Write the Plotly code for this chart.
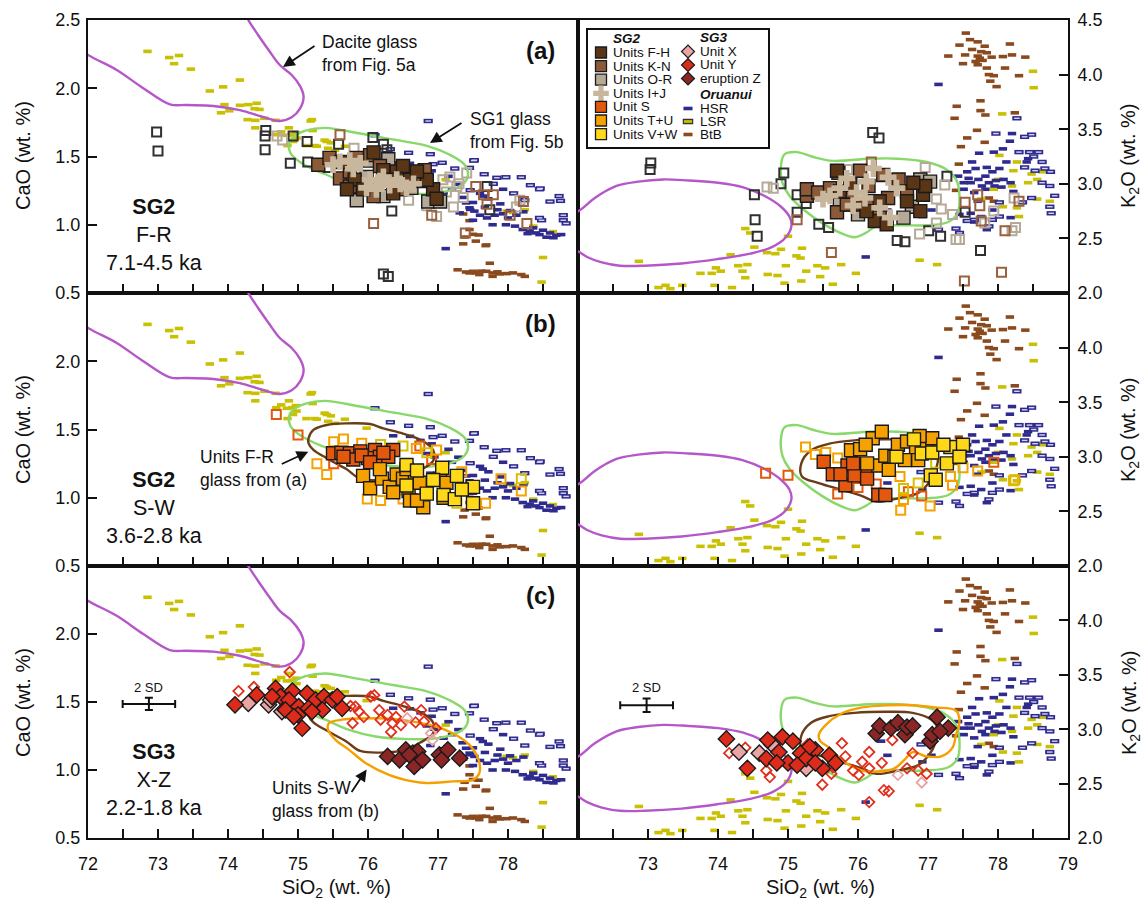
import plotly.graph_objects as go

FONT = "Liberation Sans, Arial, Helvetica, sans-serif"

# ---------------------------------------------------------------------------
# Oruanui reference glass (background in every panel), SiO2 vs CaO (wt. %)
# ---------------------------------------------------------------------------
HSR_CAO = [
    (76.36, 1.454), (76.91, 1.395), (76.84, 1.324), (77.08, 1.234), (76.89, 1.18),
    (77.29, 1.297), (77.15, 1.355), (77.60, 1.23), (77.72, 1.19), (77.50, 1.163),
    (77.46, 1.112), (77.67, 1.129), (77.89, 1.153), (78.03, 1.104), (77.93, 1.08),
    (77.81, 1.07), (78.12, 1.07), (78.22, 1.095), (77.60, 1.07), (77.31, 1.087),
    (77.50, 1.033), (78.31, 0.953), (78.45, 0.928), (78.55, 0.909), (78.69, 0.923),
    (78.36, 0.977), (78.76, 0.928), (78.21, 0.965), (77.97, 1.00), (77.78, 1.00),
    (77.52, 1.10), (77.45, 1.124), (77.11, 0.825), (77.64, 1.21), (77.93, 1.26),
    (78.40, 0.94), (78.60, 0.94), (78.50, 0.96), (78.65, 0.905), (78.28, 0.935),
    (77.70, 1.05), (77.40, 1.16), (77.85, 1.11), (78.00, 1.05), (77.20, 1.26),
    (76.95, 1.30), (76.60, 1.45), (76.75, 1.42), (78.10, 0.99), (77.35, 1.20),
]
HSR_OPEN_CAO = [
    (76.86, 1.76), (76.10, 1.656), (76.32, 1.553), (76.58, 1.527), (76.89, 1.517),
    (77.52, 1.473), (77.06, 1.454), (76.93, 1.444), (77.24, 1.412), (77.45, 1.417),
    (77.66, 1.37), (77.84, 1.344), (77.97, 1.348), (78.19, 1.348), (78.32, 1.29),
    (78.46, 1.266), (78.73, 1.21), (78.75, 1.175), (78.24, 1.18), (78.08, 1.23),
    (77.79, 1.30), (77.46, 1.253), (78.48, 1.033), (78.79, 1.033), (78.79, 1.07),
    (78.83, 1.01), (78.45, 1.05), (78.45, 1.26), (77.51, 1.47), (78.60, 1.17),
]
LSR_CAO = [
    (72.85, 2.27), (73.16, 2.225), (73.30, 2.24), (73.23, 2.18), (73.47, 2.14),
    (74.17, 2.06), (73.93, 2.01), (73.74, 1.98), (73.95, 1.88), (74.17, 1.875),
    (74.29, 1.88), (74.41, 1.89), (74.38, 1.85), (74.45, 1.845), (73.90, 1.82),
    (74.02, 1.835), (74.28, 1.77), (74.39, 1.765), (74.52, 1.78), (74.68, 1.765),
    (74.39, 1.71), (74.69, 1.66), (74.76, 1.68), (74.87, 1.71), (74.97, 1.675),
    (74.92, 1.66), (74.98, 1.635), (75.18, 1.76), (75.21, 1.69), (75.38, 1.62),
    (75.47, 1.60), (75.20, 1.77), (75.24, 1.58), (75.43, 1.56), (74.85, 1.58),
    (74.84, 1.655), (74.93, 1.61), (75.12, 1.58), (75.27, 1.575), (75.41, 1.61),
    (75.53, 1.545), (75.67, 1.575), (75.98, 1.51), (77.11, 1.33), (78.50, 0.76),
    (78.48, 0.58), (77.98, 1.10), (78.36, 0.99), (78.64, 0.95), (78.24, 1.11),
    (78.07, 1.09),
]
BTB_CAO = [
    (77.28, 0.67), (77.40, 0.654), (77.54, 0.647), (77.69, 0.659), (77.78, 0.647),
    (77.74, 0.718), (77.88, 0.64), (77.98, 0.642), (78.07, 0.647), (78.19, 0.635),
    (78.24, 0.622), (77.50, 0.659), (77.59, 0.635), (77.78, 0.622), (77.45, 0.647),
    (77.62, 0.66), (77.85, 0.655), (77.45, 1.03), (77.45, 0.965), (77.38, 0.91),
    (77.36, 0.86), (77.54, 0.88), (77.68, 0.847), (77.50, 0.93), (77.36, 1.079),
    (77.58, 0.925), (77.69, 0.852),
]

# Oruanui reference glass, SiO2 vs K2O (wt. %)
HSR_K2O = [
    (77.15, 3.91), (77.56, 3.11), (77.61, 3.01), (77.72, 3.04), (77.82, 3.07),
    (77.51, 2.95), (77.66, 2.92), (77.87, 3.01), (77.97, 3.03), (78.08, 3.04),
    (78.18, 3.01), (77.92, 3.11), (78.02, 3.14), (78.12, 3.20), (77.94, 3.29),
    (78.07, 3.32), (78.17, 3.39), (78.20, 3.46), (77.73, 3.28), (77.63, 3.20),
    (77.71, 2.84), (77.61, 2.73), (77.76, 2.70), (77.92, 2.76), (77.66, 2.65),
    (77.84, 2.58), (77.45, 2.72), (77.05, 2.76), (76.92, 2.70), (78.18, 2.69),
    (78.41, 3.20), (78.43, 3.23), (77.84, 3.15), (77.82, 2.95), (78.22, 2.93),
    (77.51, 3.01), (77.43, 3.07), (77.68, 3.14), (76.33, 2.89), (76.42, 2.76),
    (76.11, 2.33), (77.95, 2.98), (77.58, 3.05), (78.05, 2.97), (77.77, 2.98),
]
HSR_OPEN_K2O = [
    (78.38, 3.43), (78.48, 3.45), (78.30, 3.29), (78.45, 3.29), (78.58, 3.29),
    (78.51, 3.25), (78.63, 3.20), (78.67, 3.14), (78.75, 3.11), (78.53, 3.12),
    (78.38, 3.15), (78.63, 3.01), (78.74, 2.98), (78.81, 2.89), (78.74, 2.79),
    (78.76, 2.73), (78.48, 2.87), (78.35, 2.83), (78.02, 2.70), (77.92, 2.67),
    (77.87, 2.61), (77.45, 2.55), (77.40, 2.59), (77.15, 2.58), (76.90, 2.86),
    (78.27, 3.60), (77.97, 3.46), (77.66, 2.67), (77.56, 2.66), (78.02, 2.83),
]
LSR_K2O = [
    (72.87, 2.29), (73.15, 2.05), (73.25, 2.07), (73.32, 2.04), (73.49, 2.07),
    (73.75, 2.18), (73.91, 2.18), (73.97, 2.23), (74.04, 2.20), (74.18, 2.35),
    (73.95, 2.07), (74.20, 2.05), (74.29, 2.25), (74.42, 2.26), (74.35, 2.20),
    (74.39, 2.14), (74.46, 2.55), (74.52, 2.42), (74.70, 2.37), (74.71, 2.17),
    (74.82, 2.36), (74.90, 2.40), (74.85, 2.16), (74.95, 2.09), (74.97, 2.25),
    (75.00, 2.52), (75.12, 2.34), (75.20, 2.41), (75.18, 2.32), (75.26, 2.20),
    (75.19, 2.11), (75.42, 2.25), (75.53, 2.23), (75.46, 2.15), (75.64, 2.08),
    (75.76, 2.26), (75.97, 2.18), (76.88, 2.30), (77.13, 2.26), (74.39, 2.59),
    (78.50, 4.03), (78.51, 3.88), (78.06, 3.64), (78.22, 3.12), (78.02, 3.26),
    (78.43, 3.01), (78.56, 3.04), (78.27, 3.20), (78.63, 3.11), (77.94, 2.95),
    (78.20, 2.98), (78.07, 2.79), (78.27, 2.78), (78.56, 2.86), (78.74, 2.84),
    (78.30, 2.70), (77.76, 2.86), (78.00, 3.04), (78.48, 3.09),
]
BTB_K2O = [
    (77.54, 4.38), (77.60, 4.32), (77.71, 4.30), (77.45, 4.27), (77.81, 4.26),
    (77.63, 4.23), (77.76, 4.21), (77.84, 4.20), (77.53, 4.18), (77.71, 4.17),
    (77.91, 4.16), (78.07, 4.165), (78.20, 4.18), (78.39, 4.16), (78.17, 4.28),
    (77.29, 4.17), (77.50, 4.10), (77.71, 4.09), (77.84, 4.06), (78.10, 4.06),
    (77.87, 4.00), (77.94, 3.99), (78.30, 3.99), (77.89, 3.94), (77.98, 3.89),
    (77.75, 3.76), (77.41, 3.71), (77.75, 3.67), (77.82, 3.63), (78.24, 3.65),
    (77.38, 3.60), (77.70, 3.49), (77.56, 3.42), (77.81, 3.38), (77.47, 3.34),
    (77.44, 3.18), (77.87, 2.87), (77.94, 2.84), (77.40, 2.94), (77.78, 4.13),
    (77.74, 4.15), (77.68, 4.12),
]

# ---------------------------------------------------------------------------
# Compositional fields (outlines)
# ---------------------------------------------------------------------------
DACITE_CAO = [
    (71.80, 2.32), (72.00, 2.244), (72.41, 2.134), (72.79, 2.00), (73.17, 1.882),
    (73.41, 1.877), (73.79, 1.87), (74.17, 1.84), (74.50, 1.79), (74.74, 1.76),
    (74.91, 1.787), (75.03, 1.853), (75.08, 1.938), (75.03, 2.016), (74.91, 2.097),
    (74.74, 2.17), (74.58, 2.28), (74.43, 2.39), (74.29, 2.50), (74.18, 2.62),
]
DACITE_K2O = [
    (71.85, 2.70), (72.03, 2.76), (72.24, 2.87), (72.55, 2.98), (72.86, 3.02),
    (73.22, 3.04), (73.58, 3.03), (74.00, 3.01), (74.35, 2.97), (74.66, 2.89),
    (74.90, 2.79), (75.02, 2.70), (75.05, 2.62), (74.97, 2.51), (74.77, 2.42),
    (74.46, 2.36), (73.99, 2.31), (73.48, 2.27), (72.96, 2.25), (72.60, 2.25),
    (72.34, 2.28), (72.13, 2.33), (72.03, 2.37), (71.85, 2.44),
]
SG1_CAO = [
    (74.92, 1.64), (75.11, 1.69), (75.39, 1.71), (75.87, 1.67), (76.35, 1.625),
    (76.83, 1.58), (77.16, 1.515), (77.38, 1.44), (77.43, 1.37), (77.38, 1.31),
    (77.21, 1.26), (76.92, 1.23), (76.59, 1.227), (76.11, 1.246), (75.73, 1.295),
    (75.39, 1.37), (75.20, 1.41), (75.01, 1.466), (74.89, 1.528), (74.87, 1.59),
    (74.92, 1.64),
]
SG1_K2O = [
    (74.92, 3.01), (74.90, 3.17), (74.95, 3.27), (75.13, 3.29), (75.34, 3.25),
    (75.64, 3.21), (76.16, 3.23), (76.57, 3.23), (76.98, 3.20), (77.24, 3.14),
    (77.40, 3.04), (77.45, 2.89), (77.42, 2.73), (77.29, 2.65), (76.98, 2.62),
    (76.57, 2.62), (76.26, 2.61), (76.11, 2.55), (75.95, 2.51), (75.75, 2.55),
    (75.49, 2.64), (75.23, 2.76), (75.02, 2.89), (74.92, 3.01),
]
FR_CAO = [
    (75.15, 1.435), (75.22, 1.497), (75.41, 1.533), (75.69, 1.545), (76.03, 1.54),
    (76.22, 1.508), (76.50, 1.47), (76.77, 1.42), (76.93, 1.35), (76.93, 1.27),
    (76.74, 1.20), (76.55, 1.15), (76.27, 1.13), (75.89, 1.14), (75.69, 1.21),
    (75.41, 1.29), (75.22, 1.35), (75.15, 1.40), (75.15, 1.435),
]
FR_K2O = [
    (75.20, 2.82), (75.19, 2.94), (75.33, 3.06), (75.59, 3.12), (75.95, 3.15),
    (76.42, 3.16), (76.78, 3.15), (77.04, 3.09), (77.14, 3.00), (77.11, 2.88),
    (77.01, 2.76), (76.86, 2.67), (76.57, 2.62), (76.26, 2.59), (76.06, 2.64),
    (75.75, 2.70), (75.44, 2.76), (75.20, 2.82),
]
SW_CAO = [
    (75.44, 1.344), (75.63, 1.37), (76.11, 1.38), (76.35, 1.375), (76.64, 1.356),
    (76.97, 1.32), (77.21, 1.27), (77.45, 1.185), (77.58, 1.075), (77.59, 0.977),
    (77.50, 0.928), (77.21, 0.916), (76.83, 0.904), (76.64, 0.916), (76.30, 0.965),
    (75.97, 1.05), (75.73, 1.148), (75.54, 1.22), (75.43, 1.295), (75.44, 1.344),
]
SW_K2O = [
    (75.44, 2.95), (75.54, 3.04), (75.75, 3.14), (76.06, 3.20), (76.42, 3.22),
    (76.78, 3.22), (77.09, 3.20), (77.40, 3.17), (77.45, 3.07), (77.40, 2.95),
    (77.35, 2.83), (77.19, 2.75), (76.98, 2.75), (76.78, 2.79), (76.68, 2.73),
    (76.52, 2.64), (76.26, 2.61), (76.06, 2.62), (75.80, 2.70), (75.59, 2.83),
    (75.46, 2.89), (75.44, 2.95),
]

# ---------------------------------------------------------------------------
# SG2 units F-R (panel a)
# ---------------------------------------------------------------------------
FH_CAO = [
    (75.81, 1.33), (76.22, 1.40), (76.41, 1.39), (76.60, 1.33), (76.93, 1.26),
    (76.84, 1.33), (76.98, 1.19), (75.70, 1.26), (75.93, 1.26), (76.50, 1.43),
    (76.29, 1.33), (76.70, 1.39), (76.08, 1.53), (75.62, 1.46), (76.36, 1.23),
]
KN_CAO = [
    (75.29, 1.44), (75.60, 1.34), (76.03, 1.51), (75.45, 1.49), (75.74, 1.39),
    (76.31, 1.38), (76.60, 1.38), (76.74, 1.32), (75.84, 1.49), (76.17, 1.43),
    (76.46, 1.26), (75.74, 1.28), (76.81, 1.40), (76.08, 1.21),
]
OR_CAO = [
    (75.84, 1.18), (76.86, 1.17), (77.03, 1.17), (76.22, 1.21), (76.03, 1.47),
    (75.98, 1.35), (76.62, 1.27), (76.29, 1.48),
]
IJ_CAO = [
    (75.60, 1.46), (75.74, 1.47), (75.89, 1.45), (76.03, 1.33), (76.17, 1.32),
    (76.31, 1.29), (76.46, 1.30), (76.55, 1.27), (76.12, 1.26), (76.22, 1.35),
    (76.41, 1.33), (76.65, 1.30), (75.50, 1.44), (75.98, 1.27), (75.79, 1.41),
]
FR_OPEN_DARK_CAO = [
    (72.98, 1.68), (73.00, 1.54), (74.54, 1.69), (74.53, 1.65), (74.53, 1.55),
    (74.89, 1.45), (75.13, 1.61), (75.14, 1.46), (75.43, 1.42), (74.93, 1.65),
    (75.58, 1.59), (76.07, 1.64), (76.22, 1.59), (76.27, 1.55), (76.34, 1.10),
    (76.22, 0.64), (76.29, 0.62), (76.27, 1.50), (77.70, 1.28), (77.74, 1.11),
]
FR_OPEN_TAN_CAO = [
    (74.70, 1.65), (74.78, 1.62), (77.17, 1.35), (77.27, 1.28), (77.22, 1.13),
    (76.98, 1.06), (77.36, 1.20), (77.07, 1.33), (77.41, 1.38), (76.84, 1.14),
    (76.58, 1.18), (77.12, 1.24), (77.30, 1.30), (76.95, 1.22), (75.80, 1.56),
    (78.17, 1.18), (78.12, 1.13),
]
FR_OPEN_BROWN_CAO = [
    (75.60, 1.66), (76.08, 1.01), (76.91, 1.07), (77.39, 0.94), (77.54, 1.28),
    (77.65, 1.22), (77.79, 1.22), (78.03, 1.07), (78.22, 1.17), (78.27, 1.01),
    (77.70, 1.15),
]
FH_K2O = [
    (76.03, 2.81), (76.24, 2.66), (76.41, 2.63), (76.89, 2.75), (76.93, 2.90),
    (76.96, 2.98), (75.74, 2.93), (75.89, 2.99), (76.31, 2.84), (76.70, 2.84),
    (76.12, 2.75), (75.70, 3.12), (76.79, 3.01),
]
KN_K2O = [
    (75.27, 2.89), (75.27, 2.95), (75.43, 2.92), (75.60, 2.96), (75.72, 3.10),
    (75.70, 2.74), (75.84, 2.81), (76.15, 2.98), (76.17, 2.84), (76.36, 3.08),
    (76.43, 2.87), (76.58, 3.04), (76.31, 2.69), (76.03, 3.12), (76.70, 2.93),
    (75.91, 2.93),
]
OR_K2O = [
    (75.89, 2.81), (76.89, 3.04), (77.03, 3.02), (76.00, 2.72), (75.74, 2.83),
    (76.77, 2.79), (76.65, 2.69),
]
IJ_K2O = [
    (75.60, 2.89), (75.74, 2.96), (75.98, 2.92), (76.12, 3.02), (76.22, 3.14),
    (76.43, 3.06), (76.55, 2.96), (76.46, 2.69), (76.31, 2.78), (75.93, 2.80),
    (75.84, 3.05), (76.10, 2.87), (75.50, 2.86),
]
FR_OPEN_DARK_K2O = [
    (73.04, 3.19), (73.03, 3.13), (74.52, 2.90), (74.53, 2.67), (74.56, 2.52),
    (74.90, 3.00), (74.94, 3.10), (75.13, 2.90), (75.13, 2.74), (75.44, 2.63),
    (75.58, 2.60), (76.21, 3.47), (76.30, 3.42), (76.56, 2.48), (76.67, 2.47),
    (77.01, 2.57), (77.18, 2.52), (77.27, 3.07), (77.53, 2.74), (77.75, 2.39),
    (75.26, 2.82),
]
FR_OPEN_TAN_K2O = [
    (74.70, 2.97), (74.79, 2.96), (75.85, 3.13), (76.96, 3.15), (77.24, 2.99),
    (77.12, 2.86), (77.19, 2.77), (77.35, 2.72), (76.88, 2.54), (77.40, 2.49),
    (77.45, 2.49), (77.94, 2.75), (78.23, 2.87), (78.20, 2.57), (78.25, 2.60),
    (77.81, 2.64), (77.12, 2.64),
]
FR_OPEN_BROWN_K2O = [
    (75.13, 2.67), (76.19, 3.20), (75.62, 2.37), (77.52, 2.11), (78.05, 2.19),
    (77.74, 2.80), (77.71, 2.90), (78.10, 2.57), (78.30, 2.84), (77.53, 2.83),
    (77.76, 2.66),
]

# ---------------------------------------------------------------------------
# SG2 units S-W (panel b)
# ---------------------------------------------------------------------------
S_CAO = [
    (75.50, 1.326), (75.62, 1.33), (75.74, 1.326), (75.89, 1.34), (76.10, 1.35),
    (76.36, 1.35), (75.79, 1.28), (76.00, 1.29), (76.17, 1.30), (76.29, 1.30),
    (75.91, 1.31), (76.03, 1.26), (75.65, 1.30), (76.22, 1.33),
]
TU_CAO = [
    (75.93, 1.16), (76.03, 1.07), (76.20, 1.14), (76.31, 1.08), (76.41, 1.17),
    (76.50, 1.14), (76.58, 1.05), (76.67, 1.18), (76.60, 0.98), (76.79, 0.93),
    (76.84, 1.04), (76.70, 0.98), (77.03, 1.14), (77.12, 1.11), (76.17, 1.21),
    (76.36, 1.04), (76.55, 1.21), (77.08, 1.00), (76.74, 1.11),
]
VW_CAO = [
    (76.55, 1.24), (77.06, 1.22), (77.27, 1.16), (76.93, 1.13), (77.08, 1.02),
    (77.24, 0.99), (77.50, 1.08), (77.50, 0.96), (77.34, 1.06), (76.55, 1.09),
    (76.84, 1.03), (76.70, 1.20),
]
S_OPEN_CAO = [(74.69, 1.61), (75.00, 1.46), (75.51, 1.25), (76.74, 1.38), (76.91, 1.28)]
TU_OPEN_CAO = [
    (75.27, 1.25), (75.41, 1.17), (75.51, 1.41), (75.65, 1.43), (75.91, 1.40),
    (76.98, 1.35), (76.69, 1.36), (75.99, 0.99), (76.18, 0.98), (76.50, 0.99),
    (77.68, 0.96), (77.34, 1.19), (78.19, 1.05), (77.90, 1.14),
]
VW_OPEN_CAO = [(76.18, 1.39), (76.50, 1.38), (76.84, 1.33), (78.19, 1.14), (77.27, 0.96)]
S_K2O = [
    (75.51, 2.955), (75.64, 2.84), (75.85, 2.92), (76.11, 2.83), (75.82, 2.74),
    (75.95, 2.83), (76.29, 2.65), (76.39, 2.65), (76.13, 2.80), (75.75, 2.84),
    (75.93, 2.94),
]
TU_K2O = [
    (75.90, 3.06), (76.03, 3.07), (76.21, 3.17), (76.34, 3.23), (76.29, 2.92),
    (76.39, 3.01), (76.52, 3.00), (76.57, 3.11), (76.70, 3.14), (76.83, 3.08),
    (76.98, 3.14), (76.13, 2.94), (76.44, 2.88), (76.67, 2.97), (76.86, 2.97),
    (77.06, 3.17), (76.11, 3.11), (76.88, 3.19),
]
VW_K2O = [
    (76.55, 3.00), (76.91, 3.03), (77.06, 3.04), (77.27, 2.94), (77.32, 3.09),
    (77.50, 3.11), (77.45, 3.00), (77.04, 2.83), (77.11, 2.79), (77.22, 3.11),
    (76.80, 3.16),
]
S_OPEN_K2O = [
    (74.68, 2.85), (75.00, 2.83), (75.71, 2.66), (76.00, 2.72), (76.26, 2.75),
    (76.72, 2.68), (76.91, 2.64), (77.94, 2.95),
]
TU_OPEN_K2O = [
    (75.25, 3.09), (75.39, 3.02), (75.54, 3.04), (75.71, 2.99), (76.60, 2.82),
    (76.65, 2.61), (76.61, 2.51), (77.03, 2.55), (77.32, 2.82), (77.35, 2.74),
    (77.50, 2.90), (77.71, 2.87), (78.24, 2.79),
]
VW_OPEN_K2O = [(76.65, 2.71), (76.86, 2.76), (78.22, 2.78), (77.11, 2.94)]

# ---------------------------------------------------------------------------
# SG3 units X-Z (panel c)
# ---------------------------------------------------------------------------
X_CAO = [(74.29, 1.49), (74.58, 1.479), (74.77, 1.43), (74.61, 1.515)]
Y_CAO = [
    (74.10, 1.479), (74.41, 1.552), (74.68, 1.60), (74.75, 1.54), (74.92, 1.58),
    (74.87, 1.515), (75.01, 1.466), (75.13, 1.564), (75.25, 1.515), (75.37, 1.54),
    (75.49, 1.515), (75.63, 1.454), (75.00, 1.405), (75.06, 1.307), (75.15, 1.454),
    (75.35, 1.442), (75.56, 1.54), (74.63, 1.54), (74.82, 1.442), (74.94, 1.393),
    (75.20, 1.43),
]
Z_CAO = [
    (76.28, 1.10), (76.45, 1.075), (76.54, 1.148), (76.64, 1.124), (76.71, 1.136),
    (76.66, 1.026), (76.78, 1.075), (77.02, 1.112), (77.14, 1.148), (77.31, 1.087),
    (77.05, 1.075), (76.59, 1.112),
]
Y_OPEN_CAO = [
    (74.15, 1.58), (74.37, 1.61), (74.88, 1.72), (75.75, 1.47), (75.78, 1.344),
    (75.87, 1.43), (76.04, 1.54), (76.09, 1.55), (76.16, 1.44), (76.18, 1.37),
    (76.33, 1.28), (76.40, 1.39), (76.47, 1.33), (76.52, 1.466), (76.68, 1.35),
    (76.76, 1.44), (76.80, 1.356), (76.97, 1.307), (75.94, 1.39), (75.82, 1.466),
    (76.28, 1.405), (76.35, 1.344),
]
X_OPEN_CAO = [(76.56, 1.38), (76.90, 1.27), (76.92, 1.22)]
X_K2O = [(74.30, 2.79), (74.59, 2.78), (74.77, 2.86), (75.26, 2.64)]
Y_K2O = [
    (74.12, 2.91), (74.42, 2.64), (74.71, 2.90), (74.92, 2.93), (75.07, 2.89),
    (74.69, 2.73), (74.87, 2.79), (75.00, 2.69), (75.18, 2.78), (75.26, 2.73),
    (75.39, 2.81), (75.59, 2.76), (75.68, 2.69), (75.49, 2.64), (75.39, 2.69),
    (75.13, 2.67), (74.84, 2.69), (75.31, 2.84),
]
Z_K2O = [
    (76.26, 2.96), (76.31, 3.03), (76.47, 3.01), (76.57, 3.06), (76.67, 2.95),
    (76.70, 3.02), (77.03, 2.89), (77.06, 2.95), (77.13, 3.11), (77.29, 3.01),
    (77.17, 2.98), (76.78, 3.03),
]
Y_OPEN_K2O = [
    (74.16, 2.78), (74.39, 2.83), (74.69, 2.62), (74.74, 2.56), (75.28, 2.86),
    (75.49, 2.49), (75.62, 2.59), (75.77, 2.87), (75.82, 2.75), (75.93, 2.62),
    (76.01, 2.58), (76.16, 2.79), (76.06, 2.70), (76.16, 2.64), (76.34, 2.69),
    (76.37, 2.44), (76.44, 2.43), (76.49, 2.90), (76.16, 2.33), (76.78, 2.78),
    (76.70, 2.64), (76.86, 2.62), (76.98, 2.59), (75.64, 2.65),
]
X_OPEN_K2O = [(76.57, 2.58), (76.91, 2.51)]

# analytical uncertainty (2 SD) shown in panel c
SD_CAO = dict(x=72.87, y=1.486, dx=0.375, dy=0.045)
SD_K2O = dict(x=72.98, y=3.221, dx=0.377, dy=0.062)

# panel captions
PANEL_TAGS = ["(a)", "(b)", "(c)"]
PANEL_GROUPS = [("SG2", "F-R", "7.1-4.5 ka"), ("SG2", "S-W", "3.6-2.8 ka"), ("SG3", "X-Z", "2.2-1.8 ka")]

# legend entries
LEGEND_SG2 = [
    ("Units F-H", "square", "#5a3616"), ("Units K-N", "square", "#8c5a38"),
    ("Units O-R", "square", "#b5aa97"), ("Units I+J", "cross", "#c9b79d"),
    ("Unit S", "square", "#e4580e"), ("Units T+U", "square", "#f5a200"),
    ("Units V+W", "square", "#ffd817"),
]
LEGEND_SG3 = [("Unit X", "diamond", "#e9a4a4"), ("Unit Y", "diamond", "#dc2b1a"),
              ("eruption Z", "diamond", "#8c2626")]
LEGEND_ORUANUI = [("HSR", "#2e2a8e"), ("LSR", "#c8c000"), ("BtB", "#8b4a1e")]

# ---------------------------------------------------------------------------
# colours
# ---------------------------------------------------------------------------
C_HSR = "#2e2a8e"
C_HSR_IN = "#d6d4f0"
C_LSR = "#c8c000"
C_BTB = "#8b4a1e"
C_DACITE = "#b557c9"
C_SG1 = "#88d86a"
C_FR = "#6b3c18"
C_SW = "#f5a000"

fig = go.Figure()


def xs(pts):
    return [p[0] for p in pts]


def ys(pts):
    return [p[1] for p in pts]


def add_dash(pts, color, xa, ya, size=6, width=3.6):
    fig.add_trace(go.Scatter(
        x=xs(pts), y=ys(pts), xaxis=xa, yaxis=ya, mode="markers", hoverinfo="skip",
        marker=dict(symbol="line-ew", size=size, color=color,
                    line=dict(color=color, width=width)),
        showlegend=False))


def add_open_dash(pts, xa, ya):
    add_dash(pts, C_HSR, xa, ya, size=6.6, width=4.4)
    add_dash(pts, C_HSR_IN, xa, ya, size=4.0, width=1.4)


def add_outline(pts, color, xa, ya, width=2.4):
    fig.add_trace(go.Scatter(
        x=xs(pts), y=ys(pts), xaxis=xa, yaxis=ya, mode="lines", hoverinfo="skip",
        line=dict(color=color, width=width, shape="spline", smoothing=1.0),
        showlegend=False))


def add_open(pts, symbol, color, xa, ya, size=9, width=2):
    fig.add_trace(go.Scatter(
        x=xs(pts), y=ys(pts), xaxis=xa, yaxis=ya, mode="markers", hoverinfo="skip",
        marker=dict(symbol=symbol + "-open", size=size, color=color,
                    line=dict(color=color, width=width)),
        showlegend=False))


def add_filled(pts, symbol, color, xa, ya, size=13, edge="#1a1a1a", width=1.4):
    fig.add_trace(go.Scatter(
        x=xs(pts), y=ys(pts), xaxis=xa, yaxis=ya, mode="markers", hoverinfo="skip",
        marker=dict(symbol=symbol, size=size, color=color,
                    line=dict(color=edge, width=width)),
        showlegend=False))


ROWS = [("x", "y", "x2", "y2"), ("x3", "y3", "x4", "y4"), ("x5", "y5", "x6", "y6")]

for r, (xl, yl, xr, yr) in enumerate(ROWS):
    # background Oruanui glass
    for pts_c, pts_k, col in ((BTB_CAO, BTB_K2O, C_BTB), (LSR_CAO, LSR_K2O, C_LSR)):
        add_dash(pts_c, col, xl, yl)
        add_dash(pts_k, col, xr, yr)
    add_open_dash(HSR_OPEN_CAO, xl, yl)
    add_open_dash(HSR_OPEN_K2O, xr, yr)
    add_dash(HSR_CAO, C_HSR, xl, yl)
    add_dash(HSR_K2O, C_HSR, xr, yr)

    # compositional fields
    add_outline(DACITE_CAO, C_DACITE, xl, yl)
    add_outline(DACITE_K2O, C_DACITE, xr, yr)
    add_outline(SG1_CAO, C_SG1, xl, yl)
    add_outline(SG1_K2O, C_SG1, xr, yr)
    if r >= 1:
        add_outline(FR_CAO, C_FR, xl, yl)
        add_outline(FR_K2O, C_FR, xr, yr)
    if r == 2:
        add_outline(SW_CAO, C_SW, xl, yl)
        add_outline(SW_K2O, C_SW, xr, yr)

# panel a: SG2 units F-R
for pts, col in ((FR_OPEN_DARK_CAO, "#303030"), (FR_OPEN_TAN_CAO, "#b5aa97"),
                 (FR_OPEN_BROWN_CAO, "#9a6040")):
    add_open(pts, "square", col, "x", "y")
for pts, col in ((FR_OPEN_DARK_K2O, "#303030"), (FR_OPEN_TAN_K2O, "#b5aa97"),
                 (FR_OPEN_BROWN_K2O, "#9a6040")):
    add_open(pts, "square", col, "x2", "y2")
for pc, pk, col in ((OR_CAO, OR_K2O, "#b5aa97"), (KN_CAO, KN_K2O, "#8c5a38"),
                    (FH_CAO, FH_K2O, "#5a3616")):
    add_filled(pc, "square", col, "x", "y")
    add_filled(pk, "square", col, "x2", "y2")
add_filled(IJ_CAO, "cross", "#c9b79d", "x", "y", size=14, width=0)
add_filled(IJ_K2O, "cross", "#c9b79d", "x2", "y2", size=14, width=0)

# panel b: SG2 units S-W
for pc, pk, col in ((S_OPEN_CAO, S_OPEN_K2O, "#e4580e"), (TU_OPEN_CAO, TU_OPEN_K2O, "#f5a200"),
                    (VW_OPEN_CAO, VW_OPEN_K2O, "#d8c000")):
    add_open(pc, "square", col, "x3", "y3")
    add_open(pk, "square", col, "x4", "y4")
for pc, pk, col in ((S_CAO, S_K2O, "#e4580e"), (TU_CAO, TU_K2O, "#f5a200"),
                    (VW_CAO, VW_K2O, "#ffd817")):
    add_filled(pc, "square", col, "x3", "y3")
    add_filled(pk, "square", col, "x4", "y4")

# panel c: SG3 units X-Z
for pc, pk, col in ((Y_OPEN_CAO, Y_OPEN_K2O, "#e0301c"), (X_OPEN_CAO, X_OPEN_K2O, "#e9a4a4")):
    add_open(pc, "diamond", col, "x5", "y5", size=8, width=1.8)
    add_open(pk, "diamond", col, "x6", "y6", size=8, width=1.8)
for pc, pk, col in ((X_CAO, X_K2O, "#e9a4a4"), (Y_CAO, Y_K2O, "#dc2b1a"),
                    (Z_CAO, Z_K2O, "#8c2626")):
    add_filled(pc, "diamond", col, "x5", "y5", size=12.5)
    add_filled(pk, "diamond", col, "x6", "y6", size=12.5)

# 2 SD uncertainty bars
for sd, xa, ya in ((SD_CAO, "x5", "y5"), (SD_K2O, "x6", "y6")):
    fig.add_trace(go.Scatter(
        x=[sd["x"]], y=[sd["y"]], xaxis=xa, yaxis=ya, mode="markers", hoverinfo="skip",
        marker=dict(size=2, color="#111"), showlegend=False,
        error_x=dict(type="constant", value=sd["dx"], color="#111", thickness=2, width=4),
        error_y=dict(type="constant", value=sd["dy"], color="#111", thickness=2, width=4)))

# ---------------------------------------------------------------------------
# legend box (inset axes in pixel-like units)
# ---------------------------------------------------------------------------
LX0, LX1, LY0, LY1 = 588, 768, 30, 147
col1_sym, col1_txt = 601, 611
col2_sym, col2_txt = 688, 698
LEG_FONT = dict(size=13.5, family=FONT, color="#111")
for i, (name, sym, col) in enumerate(LEGEND_SG2):
    yy = 52.5 + 13.6 * i
    if sym == "cross":
        mk = dict(symbol="cross", size=13, color=col, line=dict(width=0))
    else:
        mk = dict(symbol=sym, size=11, color=col, line=dict(color="#1a1a1a", width=1.3))
    fig.add_trace(go.Scatter(x=[col1_sym], y=[yy], xaxis="x7", yaxis="y7", mode="markers",
                             hoverinfo="skip", showlegend=False, marker=mk))
    fig.add_annotation(x=col1_txt, y=yy, xref="x7", yref="y7", text=name, showarrow=False,
                       xanchor="left", yanchor="middle", font=LEG_FONT)
for i, (name, sym, col) in enumerate(LEGEND_SG3):
    yy = 51.5 + 13.5 * i
    fig.add_trace(go.Scatter(x=[col2_sym], y=[yy], xaxis="x7", yaxis="y7", mode="markers",
                             hoverinfo="skip", showlegend=False,
                             marker=dict(symbol=sym, size=10, color=col,
                                         line=dict(color="#1a1a1a", width=1.2))))
    fig.add_annotation(x=col2_txt, y=yy, xref="x7", yref="y7", text=name, showarrow=False,
                       xanchor="left", yanchor="middle", font=LEG_FONT)
for i, (name, col) in enumerate(LEGEND_ORUANUI):
    yy = 108.5 + 13 * i
    if name == "LSR":
        fig.add_trace(go.Scatter(x=[col2_sym], y=[yy], xaxis="x7", yaxis="y7", mode="markers",
                                 hoverinfo="skip", showlegend=False,
                                 marker=dict(symbol="line-ew", size=7.5, color="#333",
                                             line=dict(color="#333", width=5.5))))
        fig.add_trace(go.Scatter(x=[col2_sym], y=[yy], xaxis="x7", yaxis="y7", mode="markers",
                                 hoverinfo="skip", showlegend=False,
                                 marker=dict(symbol="line-ew", size=5.8, color=col,
                                             line=dict(color=col, width=2.8))))
    else:
        fig.add_trace(go.Scatter(x=[col2_sym], y=[yy], xaxis="x7", yaxis="y7", mode="markers",
                                 hoverinfo="skip", showlegend=False,
                                 marker=dict(symbol="line-ew", size=6.5, color=col,
                                             line=dict(color=col, width=3.6))))
    fig.add_annotation(x=col2_txt, y=yy, xref="x7", yref="y7", text=name, showarrow=False,
                       xanchor="left", yanchor="middle", font=LEG_FONT)
for txt, xx, yy in (("SG2", col1_txt, 38.5), ("SG3", col2_txt, 37.5), ("Oruanui", col2_txt, 94.5)):
    fig.add_annotation(x=xx, y=yy, xref="x7", yref="y7", text="<b><i>" + txt + "</i></b>",
                       showarrow=False, xanchor="left", yanchor="middle", font=LEG_FONT)

# ---------------------------------------------------------------------------
# text labels and arrows
# ---------------------------------------------------------------------------
TXT = dict(family=FONT, color="#111")
for r, (xl, yl, xr, yr) in enumerate(ROWS):
    fig.add_annotation(x=78.46, y=2.28, xref=xl, yref=yl, text="<b>" + PANEL_TAGS[r] + "</b>",
                       showarrow=False, xanchor="center", yanchor="middle",
                       font=dict(size=24, **TXT))
    grp, units, age = PANEL_GROUPS[r]
    fig.add_annotation(x=72.94, y=0.925, xref=xl, yref=yl,
                       text="<b>" + grp + "</b><br>" + units + "<br>" + age,
                       showarrow=False, align="center", xanchor="center", yanchor="middle",
                       font=dict(size=21.5, **TXT))

arrows = [
    ("x", "y", 74.786, 2.156, 33, -22),
    ("x", "y", 76.886, 1.599, 33, -21),
    ("x3", "y3", 75.147, 1.337, -28, 13),
    ("x5", "y5", 75.98, 1.004, -16, 24),
]
for xa, ya, tx, ty, ax, ay in arrows:
    fig.add_annotation(x=tx, y=ty, xref=xa, yref=ya, ax=ax, ay=ay, text="", showarrow=True,
                       arrowhead=2, arrowsize=1.3, arrowwidth=1.8, arrowcolor="#111")

notes = [
    ("x", "y", 75.314, 2.251, "Dacite glass<br>from Fig. 5a"),
    ("x", "y", 77.43, 1.687, "SG1 glass<br>from Fig. 5b"),
    ("x3", "y3", 73.571, 1.211, "Units F-R<br>glass from (a)"),
    ("x5", "y5", 74.60, 0.782, "Units S-W<br>glass from (b)"),
]
for xa, ya, tx, ty, txt in notes:
    fig.add_annotation(x=tx, y=ty, xref=xa, yref=ya, text=txt, showarrow=False, align="left",
                       xanchor="left", yanchor="middle", font=dict(size=17.5, **TXT))

fig.add_annotation(x=SD_CAO["x"], y=1.61, xref="x5", yref="y5", text="2 SD", showarrow=False,
                   xanchor="center", yanchor="middle", font=dict(size=13, **TXT))
fig.add_annotation(x=SD_K2O["x"], y=3.383, xref="x6", yref="y6", text="2 SD", showarrow=False,
                   xanchor="center", yanchor="middle", font=dict(size=13, **TXT))

# axis titles
for yc in (156, 430, 703):
    fig.add_annotation(x=23 / 1144, y=1 - yc / 911, xref="paper", yref="paper",
                       text="CaO (wt. %)", textangle=-90, showarrow=False,
                       xanchor="center", yanchor="middle", font=dict(size=20, **TXT))
    fig.add_annotation(x=1130 / 1144, y=1 - yc / 911, xref="paper", yref="paper",
                       text="K<sub>2</sub>O (wt. %)", textangle=-90, showarrow=False,
                       xanchor="center", yanchor="middle", font=dict(size=20, **TXT))
for xc in (336, 820):
    fig.add_annotation(x=xc / 1144, y=1 - 888 / 911, xref="paper", yref="paper",
                       text="SiO<sub>2</sub> (wt. %)", showarrow=False,
                       xanchor="center", yanchor="middle", font=dict(size=20, **TXT))

# ---------------------------------------------------------------------------
# axes
# ---------------------------------------------------------------------------
W, H = 1144, 911
XL = [88 / W, 578 / W]
XR = [578 / W, 1068 / W]
YDOM = [[1 - 293 / H, 1 - 20 / H], [1 - 566 / H, 1 - 293 / H], [1 - 838 / H, 1 - 566 / H]]

half_steps = [72 + 0.5 * k for k in range(15)]
AX = dict(showline=True, mirror=True, linecolor="#111", linewidth=2, ticks="inside",
          ticklen=9, tickwidth=1.8, tickcolor="#111", showgrid=False, zeroline=False,
          tickfont=dict(size=18, family=FONT, color="#111"), automargin=False, fixedrange=True)

layout = dict(width=W, height=H, margin=dict(l=0, r=0, t=0, b=0), template="none",
              paper_bgcolor="white", plot_bgcolor="white", showlegend=False)

for r in range(3):
    ix_l, ix_r = 2 * r + 1, 2 * r + 2
    kl = "" if ix_l == 1 else str(ix_l)
    kr = str(ix_r)
    bottom = r == 2
    lvals = [v for v in half_steps if v <= 78.5]
    rvals = [v for v in half_steps if v >= 72.5]
    ltext = [str(int(v)) if (bottom and v == int(v)) else "" for v in lvals]
    rtext = [str(int(v)) if (bottom and v == int(v)) else "" for v in rvals]
    layout["xaxis" + kl] = dict(AX, domain=XL, range=[72, 79], anchor="y" + kl,
                                tickvals=lvals, ticktext=ltext, ticklabelstandoff=8)
    layout["xaxis" + kr] = dict(AX, domain=XR, range=[72, 79], anchor="y" + kr,
                                tickvals=rvals, ticktext=rtext, ticklabelstandoff=8)
    cvals = [0.5, 1.0, 1.5, 2.0, 2.5]
    ctext = ["0.5", "1.0", "1.5", "2.0", "2.5" if r == 0 else ""]
    kvals = [2.0, 2.5, 3.0, 3.5, 4.0, 4.5]
    ktext = ["2.0", "2.5", "3.0", "3.5", "4.0", "4.5" if r == 0 else ""]
    layout["yaxis" + kl] = dict(AX, domain=YDOM[r], range=[0.5, 2.5], anchor="x" + kl,
                                tickvals=cvals, ticktext=ctext, ticklabelstandoff=2)
    layout["yaxis" + kr] = dict(AX, domain=YDOM[r], range=[2.0, 4.5], anchor="x" + kr,
                                side="right", tickvals=kvals, ticktext=ktext, ticklabelstandoff=4)

layout["xaxis7"] = dict(domain=[LX0 / W, LX1 / W], range=[LX0, LX1], anchor="y7",
                        showline=True, mirror=True, linecolor="#111", linewidth=1.6,
                        showgrid=False, zeroline=False, showticklabels=False, ticks="",
                        fixedrange=True)
layout["yaxis7"] = dict(domain=[1 - LY1 / H, 1 - LY0 / H], range=[LY1, LY0], anchor="x7",
                        showline=True, mirror=True, linecolor="#111", linewidth=1.6,
                        showgrid=False, zeroline=False, showticklabels=False, ticks="",
                        fixedrange=True)

fig.update_layout(**layout)
fig.write_html("out.html")
